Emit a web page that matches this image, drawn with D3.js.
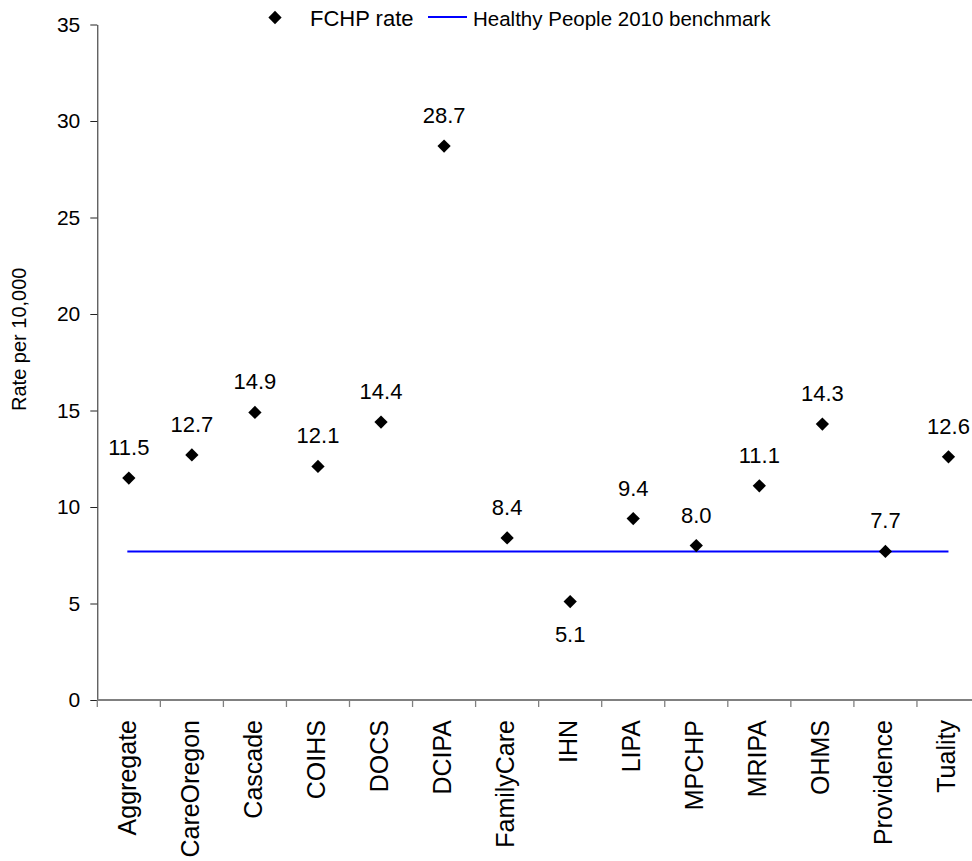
<!DOCTYPE html>
<html>
<head>
<meta charset="utf-8">
<script src="https://cdn.jsdelivr.net/npm/d3@7"></script>
<style>
  body { margin: 0; background: #fff; }
  svg { display: block; font-family: "Liberation Sans", Arial, sans-serif; }
</style>
</head>
<body>
<script>
// data
const plans = ["Aggregate", "CareOregon", "Cascade", "COIHS", "DOCS", "DCIPA", "FamilyCare",
               "IHN", "LIPA", "MPCHP", "MRIPA", "OHMS", "Providence", "Tuality"];
const rates = [11.5, 12.7, 14.9, 12.1, 14.4, 28.7, 8.4, 5.1, 9.4, 8.0, 11.1, 14.3, 7.7, 12.6];
const benchmark = 7.7;
const yTicks = [0, 5, 10, 15, 20, 25, 30, 35];
const labelBelow = ["IHN"];

const W = 972, H = 861;
const plotLeft = 97.3, plotRight = 980, plotTop = 24.5, plotBottom = 700;

const svg = d3.select("body").append("svg")
    .attr("width", W)
    .attr("height", H);

const x = d3.scaleBand().domain(plans).range([plotLeft, plotRight]).padding(0);
const y = d3.scaleLinear().domain([0, 35]).range([plotBottom, plotTop]);

// y axis
const yAxis = svg.append("g")
    .attr("transform", "translate(" + plotLeft + ",0)")
    .call(d3.axisLeft(y).tickValues(yTicks).tickSize(7).tickPadding(10).tickSizeOuter(0));
yAxis.attr("font-size", 21).attr("font-family", "'Liberation Sans', Arial, sans-serif");
yAxis.select(".domain").attr("stroke", "#222").attr("stroke-width", 1);
yAxis.selectAll(".tick line").attr("stroke", "#222");
yAxis.selectAll(".tick text").attr("fill", "#000");

// x axis (grey), ticks on band edges
svg.append("line")
    .attr("x1", plotLeft).attr("x2", plotRight)
    .attr("y1", plotBottom).attr("y2", plotBottom)
    .attr("stroke", "#808080").attr("stroke-width", 2);
svg.selectAll(".xtick")
    .data(plans)
  .enter().append("line")
    .attr("class", "xtick")
    .attr("x1", d => x(d)).attr("x2", d => x(d))
    .attr("y1", plotBottom).attr("y2", plotBottom + 7)
    .attr("stroke", "#808080").attr("stroke-width", 1.3);

svg.selectAll(".xlabel")
    .data(plans)
  .enter().append("text")
    .attr("class", "xlabel")
    .attr("transform", d => "translate(" + (x(d) + x.bandwidth() / 2 + 7) + "," + (plotBottom + 20) + ") rotate(-90)")
    .attr("text-anchor", "end")
    .attr("font-size", 25)
    .attr("fill", "#000")
    .text(d => d);

// y axis title
svg.append("text")
    .attr("transform", "translate(26," + ((plotTop + plotBottom) / 2 - 23) + ") rotate(-90)")
    .attr("text-anchor", "middle")
    .attr("font-size", 20)
    .attr("fill", "#000")
    .text("Rate per 10,000");

// benchmark line
svg.append("line")
    .attr("x1", x(plans[0]) + x.bandwidth() / 2 - 1.5)
    .attr("x2", x(plans[plans.length - 1]) + x.bandwidth() / 2)
    .attr("y1", y(benchmark)).attr("y2", y(benchmark))
    .attr("stroke", "#0000ff").attr("stroke-width", 2);

// points
const diamond = d3.symbol().type(d3.symbolSquare).size(88);
svg.selectAll(".pt")
    .data(plans)
  .enter().append("path")
    .attr("class", "pt")
    .attr("d", diamond)
    .attr("transform", (d, i) => "translate(" + (x(d) + x.bandwidth() / 2) + "," + y(rates[i]) + ") rotate(45)")
    .attr("fill", "#000");

// value labels
svg.selectAll(".val")
    .data(plans)
  .enter().append("text")
    .attr("class", "val")
    .attr("x", d => x(d) + x.bandwidth() / 2)
    .attr("y", (d, i) => labelBelow.includes(d) ? y(rates[i]) + 40 : y(rates[i]) - 23)
    .attr("text-anchor", "middle")
    .attr("font-size", 22)
    .attr("fill", "#000")
    .text((d, i) => rates[i].toFixed(1));

// legend
const lg = svg.append("g");
lg.append("path")
    .attr("d", diamond)
    .attr("transform", "translate(275,17.5) rotate(45)")
    .attr("fill", "#000");
lg.append("text")
    .attr("x", 310).attr("y", 26)
    .attr("font-size", 22)
    .attr("fill", "#000")
    .text("FCHP rate");
lg.append("line")
    .attr("x1", 428).attr("x2", 467)
    .attr("y1", 17).attr("y2", 17)
    .attr("stroke", "#0000ff").attr("stroke-width", 2);
lg.append("text")
    .attr("x", 473).attr("y", 25.5)
    .attr("font-size", 20.5)
    .attr("fill", "#000")
    .text("Healthy People 2010 benchmark");
</script>
</body>
</html>
